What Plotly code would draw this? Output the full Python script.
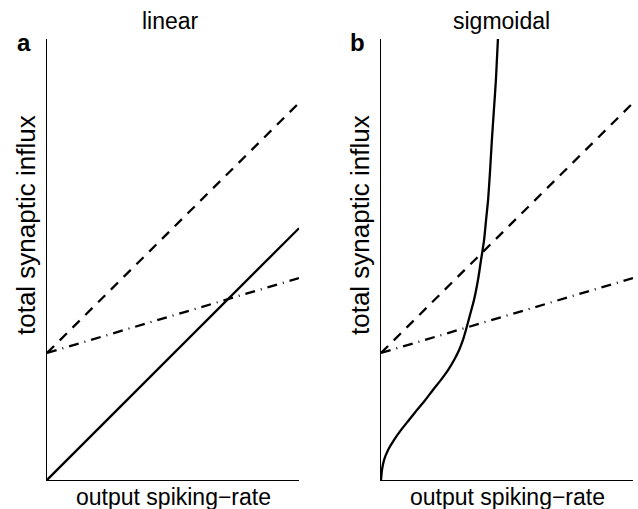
import plotly.graph_objects as go

# ---- data (normalised units) ----
x_line = [0.0, 1.0]
linear_solid = [0.0, 0.571]
dashed_line = [0.288, 0.855]
dashdot_line = [0.288, 0.458]

sig_x = [0.0, 0.004, 0.012, 0.028, 0.052, 0.079, 0.111, 0.143, 0.175, 0.206, 0.238, 0.266,
         0.290, 0.310, 0.325, 0.337, 0.353, 0.369, 0.385, 0.397, 0.409, 0.417, 0.425, 0.433,
         0.440, 0.448, 0.456, 0.464]
sig_y = [0.0, 0.023, 0.045, 0.068, 0.091, 0.113, 0.136, 0.159, 0.181, 0.204, 0.227, 0.249,
         0.272, 0.295, 0.317, 0.340, 0.374, 0.408, 0.454, 0.499, 0.544, 0.590, 0.635, 0.703,
         0.771, 0.839, 0.907, 1.0]

titles = ["linear", "sigmoidal"]
panel_labels = ["a", "b"]
xlabel = "output spiking\u2212rate"
ylabel = "total synaptic influx"

W, H = 638, 509
FONT = "Liberation Sans, Arial, sans-serif"

fig = go.Figure()

line_w = 2.3
dash_pat = "10px,8px"
dashdot_pat = "10px,6px,1px,6px"

for xa, ya in [("x", "y"), ("x2", "y2")]:
    fig.add_trace(go.Scatter(x=x_line, y=dashed_line, mode="lines", xaxis=xa, yaxis=ya,
                             line=dict(color="black", width=line_w, dash=dash_pat), showlegend=False))
    fig.add_trace(go.Scatter(x=x_line, y=dashdot_line, mode="lines", xaxis=xa, yaxis=ya,
                             line=dict(color="black", width=line_w, dash=dashdot_pat), showlegend=False))

fig.add_trace(go.Scatter(x=x_line, y=linear_solid, mode="lines", xaxis="x", yaxis="y",
                         line=dict(color="black", width=line_w), showlegend=False))
fig.add_trace(go.Scatter(x=sig_x, y=sig_y, mode="lines", xaxis="x2", yaxis="y2",
                         line=dict(color="black", width=line_w, shape="spline", smoothing=0.6), showlegend=False))

def px_x(p):
    return p / W

def px_y(p):
    return 1 - p / H

ax_common = dict(showline=True, linecolor="black", linewidth=1, showgrid=False, zeroline=False,
                 showticklabels=False, ticks="", range=[0, 1], fixedrange=True)

fig.update_layout(
    width=W, height=H,
    margin=dict(l=0, r=0, t=0, b=0),
    paper_bgcolor="white", plot_bgcolor="white",
    xaxis=dict(domain=[px_x(47), px_x(299)], anchor="y", **ax_common),
    yaxis=dict(domain=[px_y(480), px_y(39)], anchor="x", **ax_common),
    xaxis2=dict(domain=[px_x(381), px_x(633)], anchor="y2", **ax_common),
    yaxis2=dict(domain=[px_y(480), px_y(39)], anchor="x2", **ax_common),
    font=dict(family=FONT, color="black"),
)

ann = []
# titles
for t, cx in zip(titles, [170, 501]):
    ann.append(dict(text=t, x=px_x(cx), y=px_y(21), xref="paper", yref="paper",
                    showarrow=False, xanchor="center", yanchor="middle", font=dict(size=23, family=FONT)))
# panel labels
for t, cx in zip(panel_labels, [24, 357]):
    ann.append(dict(text="<b>" + t + "</b>", x=px_x(cx), y=px_y(43), xref="paper", yref="paper",
                    showarrow=False, xanchor="center", yanchor="middle", font=dict(size=24, family=FONT)))
# x labels
for cx in [173, 507]:
    ann.append(dict(text=xlabel, x=px_x(cx), y=px_y(497), xref="paper", yref="paper",
                    showarrow=False, xanchor="center", yanchor="middle", font=dict(size=23, family=FONT)))
# y labels
for cx in [26, 360]:
    ann.append(dict(text=ylabel, x=px_x(cx), y=px_y(225), xref="paper", yref="paper", textangle=-90,
                    showarrow=False, xanchor="center", yanchor="middle", font=dict(size=26, family=FONT)))

fig.update_layout(annotations=ann)

fig.write_html("out.html")
